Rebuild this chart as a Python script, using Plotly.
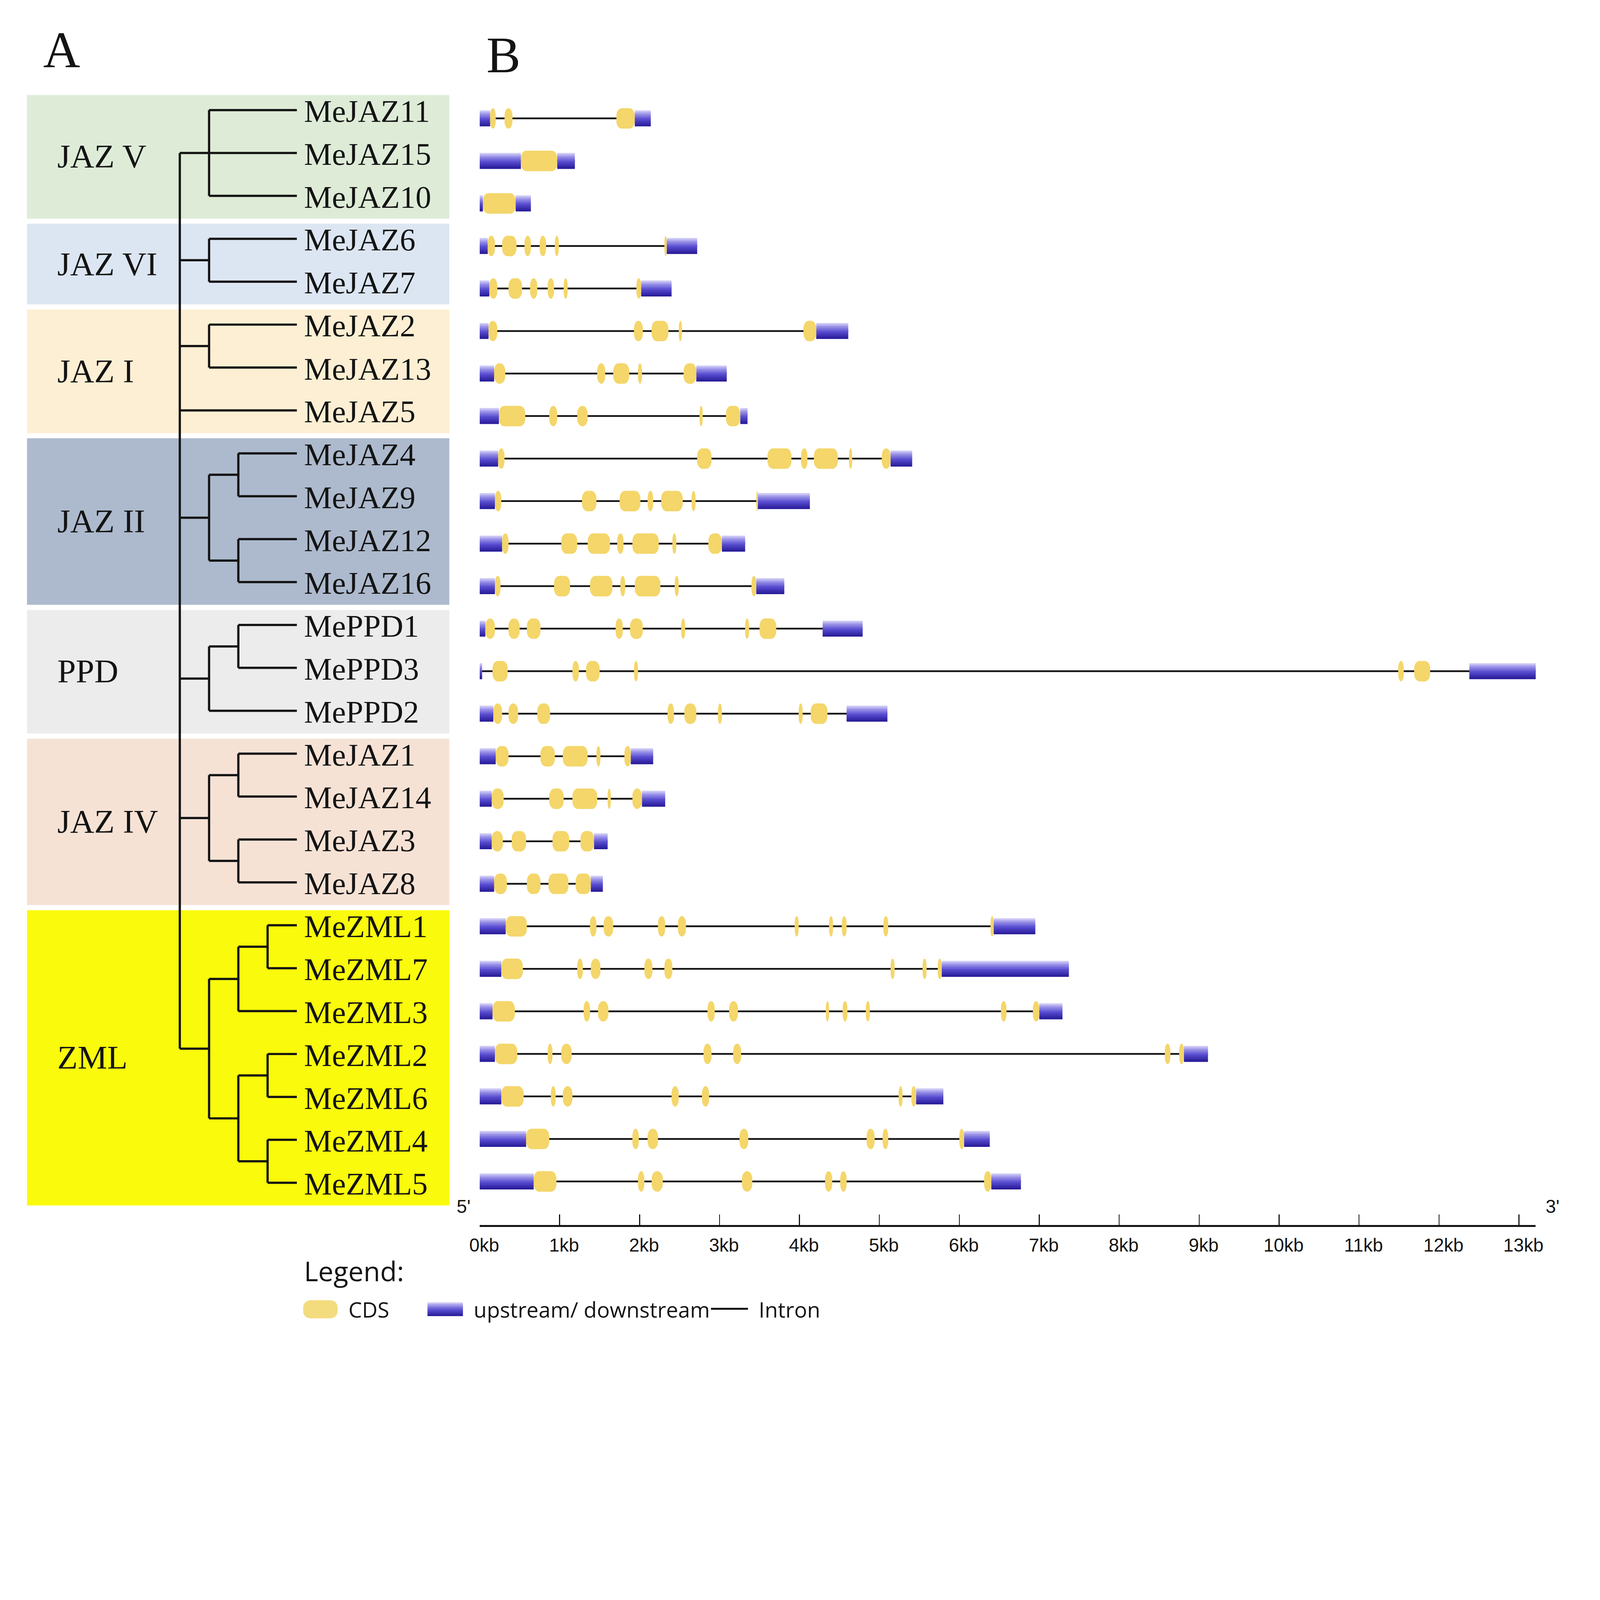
import plotly.graph_objects as go

# ---------------------------------------------------------------- data
gene_names = ["MeJAZ11", "MeJAZ15", "MeJAZ10", "MeJAZ6", "MeJAZ7", "MeJAZ2", "MeJAZ13", "MeJAZ5",
              "MeJAZ4", "MeJAZ9", "MeJAZ12", "MeJAZ16", "MePPD1", "MePPD3", "MePPD2",
              "MeJAZ1", "MeJAZ14", "MeJAZ3", "MeJAZ8",
              "MeZML1", "MeZML7", "MeZML3", "MeZML2", "MeZML6", "MeZML4", "MeZML5"]

# 5' upstream region (kb)
utr5_kb = [(0, 0.13), (0, 0.515), (0, 0.04), (0, 0.10), (0, 0.12), (0, 0.11), (0, 0.18), (0, 0.24),
           (0, 0.23), (0, 0.19), (0, 0.28), (0, 0.19), (0, 0.07), (0, 0.03), (0, 0.17),
           (0, 0.20), (0, 0.15), (0, 0.15), (0, 0.18),
           (0, 0.325), (0, 0.27), (0, 0.16), (0, 0.19), (0, 0.27), (0, 0.58), (0, 0.675)]

# 3' downstream region (kb)
utr3_kb = [(1.94, 2.14), (0.97, 1.19), (0.45, 0.64), (2.34, 2.72), (2.02, 2.40), (4.21, 4.61), (2.71, 3.09), (3.26, 3.35),
           (5.14, 5.41), (3.48, 4.13), (3.03, 3.32), (3.46, 3.81), (4.29, 4.79), (12.38, 13.23), (4.59, 5.10),
           (1.89, 2.17), (2.03, 2.32), (1.43, 1.60), (1.39, 1.54),
           (6.43, 6.95), (5.78, 7.37), (7.00, 7.29), (8.81, 9.11), (5.46, 5.80), (6.06, 6.38), (6.40, 6.77)]

# coding sequences (kb)
cds_kb = [
    [(0.13, 0.20), (0.31, 0.41), (1.71, 1.94)],
    [(0.515, 0.97)],
    [(0.04, 0.45)],
    [(0.10, 0.19), (0.28, 0.46), (0.56, 0.64), (0.75, 0.83), (0.94, 0.99), (2.31, 2.34)],
    [(0.12, 0.22), (0.36, 0.53), (0.63, 0.72), (0.85, 0.93), (1.05, 1.10), (1.96, 2.02)],
    [(0.11, 0.22), (1.93, 2.04), (2.15, 2.36), (2.49, 2.53), (4.05, 4.21)],
    [(0.18, 0.32), (1.47, 1.57), (1.67, 1.87), (1.98, 2.03), (2.55, 2.71)],
    [(0.24, 0.57), (0.87, 0.97), (1.22, 1.35), (2.75, 2.79), (3.08, 3.26)],
    [(0.23, 0.31), (2.72, 2.90), (3.60, 3.90), (4.02, 4.10), (4.18, 4.48), (4.62, 4.66), (5.03, 5.14)],
    [(0.19, 0.27), (1.28, 1.46), (1.75, 2.01), (2.10, 2.17), (2.27, 2.54), (2.65, 2.70), (3.46, 3.48)],
    [(0.28, 0.36), (1.02, 1.22), (1.35, 1.63), (1.72, 1.80), (1.91, 2.24), (2.41, 2.46), (2.86, 3.03)],
    [(0.19, 0.26), (0.93, 1.13), (1.38, 1.66), (1.76, 1.82), (1.94, 2.26), (2.44, 2.49), (3.40, 3.46)],
    [(0.07, 0.19), (0.36, 0.50), (0.59, 0.76), (1.70, 1.79), (1.88, 2.04), (2.52, 2.57), (3.32, 3.37), (3.50, 3.71)],
    [(0.16, 0.35), (1.16, 1.24), (1.33, 1.50), (1.93, 1.98), (11.49, 11.56), (11.69, 11.89)],
    [(0.17, 0.28), (0.36, 0.48), (0.72, 0.88), (2.35, 2.43), (2.56, 2.71), (2.98, 3.03), (3.99, 4.04), (4.14, 4.35)],
    [(0.20, 0.36), (0.76, 0.94), (1.04, 1.35), (1.46, 1.51), (1.81, 1.89)],
    [(0.15, 0.30), (0.87, 1.05), (1.16, 1.47), (1.60, 1.64), (1.91, 2.03)],
    [(0.15, 0.29), (0.40, 0.58), (0.91, 1.12), (1.26, 1.43)],
    [(0.18, 0.34), (0.59, 0.76), (0.86, 1.11), (1.20, 1.39)],
    [(0.325, 0.59), (1.38, 1.46), (1.55, 1.67), (2.23, 2.32), (2.48, 2.58), (3.94, 3.99), (4.37, 4.42), (4.53, 4.59), (5.05, 5.11), (6.39, 6.43)],
    [(0.27, 0.54), (1.22, 1.29), (1.39, 1.51), (2.06, 2.16), (2.31, 2.41), (5.14, 5.19), (5.54, 5.59), (5.73, 5.78)],
    [(0.16, 0.44), (1.30, 1.38), (1.48, 1.61), (2.85, 2.94), (3.12, 3.23), (4.33, 4.37), (4.54, 4.60), (4.83, 4.88), (6.52, 6.59), (6.92, 7.00)],
    [(0.19, 0.47), (0.85, 0.91), (1.02, 1.15), (2.80, 2.90), (3.17, 3.27), (8.57, 8.64), (8.75, 8.81)],
    [(0.27, 0.55), (0.89, 0.95), (1.04, 1.16), (2.40, 2.49), (2.78, 2.87), (5.24, 5.29), (5.40, 5.46)],
    [(0.58, 0.87), (1.91, 1.99), (2.10, 2.23), (3.25, 3.36), (4.84, 4.94), (5.04, 5.11), (6.00, 6.06)],
    [(0.675, 0.96), (1.98, 2.06), (2.15, 2.29), (3.28, 3.41), (4.32, 4.41), (4.51, 4.59), (6.31, 6.40)],
]

tree_newick = ("((MeJAZ11,MeJAZ15,MeJAZ10),(MeJAZ6,MeJAZ7),(MeJAZ2,MeJAZ13),MeJAZ5,"
               "((MeJAZ4,MeJAZ9),(MeJAZ12,MeJAZ16)),((MePPD1,MePPD3),MePPD2),"
               "((MeJAZ1,MeJAZ14),(MeJAZ3,MeJAZ8)),"
               "(((MeZML1,MeZML7),MeZML3),((MeZML2,MeZML6),(MeZML4,MeZML5))));")

group_names = ["JAZ V", "JAZ VI", "JAZ I", "JAZ II", "PPD", "JAZ IV", "ZML"]
group_sizes = [3, 2, 3, 4, 3, 4, 7]
group_colors = ["#DEECD7", "#DCE6F2", "#FDEFD3", "#ADBACD", "#ECECEC", "#F6E2D5", "#FAFA0C"]

scale_ticks_kb = [0, 1, 2, 3, 4, 5, 6, 7, 8, 9, 10, 11, 12, 13]
scale_tick_labels = ["0kb", "1kb", "2kb", "3kb", "4kb", "5kb", "6kb", "7kb",
                     "8kb", "9kb", "10kb", "11kb", "12kb", "13kb"]

legend_labels = ["CDS", "upstream/ downstream", "Intron"]

# ---------------------------------------------------------------- geometry / style
W, H = 5000, 4292
SERIF = "Liberation Serif, Times New Roman, serif"
SANS = "Open Sans, Noto Sans, sans-serif"
NARROW = "Liberation Sans Narrow, Arial Narrow, Liberation Sans, sans-serif"

GX0, GX1, GRANGE = 1483, 4821, 13.21
KB_PX = (GX1 - GX0) / GRANGE
ROW0, ROW_PX, AXIS_Y = 370, 132.88, 3828
TOP_PX = 280
Y_BOT = (AXIS_Y - ROW0) / ROW_PX
Y_TOP = (TOP_PX - ROW0) / ROW_PX

ROOT_PX, DEPTH_PX = 535, 92.5
LEAF0, LEAF_PX = 344, 134.08

UTR_H = 50 / ROW_PX / 2
CDS_H = 64 / ROW_PX / 2
CDS_COLOR = "#F4D66A"
BLUE_STOPS = [(0.0, (220, 216, 248)), (0.22, (156, 148, 232)), (0.55, (88, 76, 208)), (1.0, (36, 24, 148))]


def blue_at(t):
    for (t0, c0), (t1, c1) in zip(BLUE_STOPS[:-1], BLUE_STOPS[1:]):
        if t <= t1:
            f = (t - t0) / (t1 - t0)
            return "rgb(%d,%d,%d)" % tuple(round(a + (b - a) * f) for a, b in zip(c0, c1))
    return "rgb(%d,%d,%d)" % BLUE_STOPS[-1][1]


def gradient_rect(x0, x1, ytop, ybot, xref, yref, n=10):
    out = []
    step = (ybot - ytop) / n
    for k in range(n):
        a = ytop + k * step
        b = ytop + (k + 1) * step + (step * 0.4 if k < n - 1 else 0)
        out.append(dict(type="rect", xref=xref, yref=yref, x0=x0, x1=x1, y0=a, y1=b,
                        line=dict(width=0), fillcolor=blue_at((k + 0.5) / n), layer="above"))
    return out


def rounded_path(x0, x1, yt, yb, rx, ry):
    rx = min(rx, (x1 - x0) / 2)
    dy = ry if yb > yt else -ry
    k = 0.5523
    f = lambda v: "%.6f" % v
    return ("M%s,%s L%s,%s " % (f(x0 + rx), f(yt), f(x1 - rx), f(yt)) +
            "C%s,%s %s,%s %s,%s " % (f(x1 - rx + k * rx), f(yt), f(x1), f(yt + dy - k * dy), f(x1), f(yt + dy)) +
            "L%s,%s " % (f(x1), f(yb - dy)) +
            "C%s,%s %s,%s %s,%s " % (f(x1), f(yb - dy + k * dy), f(x1 - rx + k * rx), f(yb), f(x1 - rx), f(yb)) +
            "L%s,%s " % (f(x0 + rx), f(yb)) +
            "C%s,%s %s,%s %s,%s " % (f(x0 + rx - k * rx), f(yb), f(x0), f(yb - dy + k * dy), f(x0), f(yb - dy)) +
            "L%s,%s " % (f(x0), f(yt + dy)) +
            "C%s,%s %s,%s %s,%s Z" % (f(x0), f(yt + dy - k * dy), f(x0 + rx - k * rx), f(yt), f(x0 + rx), f(yt)))


px = lambda v: v / W
py = lambda v: 1 - v / H

fig = go.Figure()
shapes = []
annotations = []

# ---------------------------------------------------------------- gene structures
ix, iy = [], []
for i, (u5, u3) in enumerate(zip(utr5_kb, utr3_kb)):
    ix += [u5[0], u3[1], None]
    iy += [i, i, None]
fig.add_trace(go.Scatter(x=ix, y=iy, mode="lines", line=dict(color="#141414", width=5.5),
                         hoverinfo="skip", showlegend=False, xaxis="x", yaxis="y"))

for i in range(len(gene_names)):
    for (a, b) in (utr5_kb[i], utr3_kb[i]):
        shapes += gradient_rect(a, b, i - UTR_H, i + UTR_H, "x", "y")
    for (a, b) in cds_kb[i]:
        shapes.append(dict(type="path", xref="x", yref="y",
                           path=rounded_path(a, b, i - CDS_H, i + CDS_H, 17 / KB_PX, 24 / ROW_PX),
                           fillcolor=CDS_COLOR, line=dict(width=0), layer="above"))

# ---------------------------------------------------------------- tree
def parse_newick(s):
    s = s.strip().rstrip(";")
    pos = [0]

    def node():
        if s[pos[0]] == "(":
            pos[0] += 1
            kids = [node()]
            while s[pos[0]] == ",":
                pos[0] += 1
                kids.append(node())
            pos[0] += 1
            return kids
        st = pos[0]
        while pos[0] < len(s) and s[pos[0]] not in ",()":
            pos[0] += 1
        return s[st:pos[0]]
    return node()


tree = parse_newick(tree_newick)


def max_internal_depth(n, d=0):
    if isinstance(n, str):
        return d - 1
    return max([d] + [max_internal_depth(c, d + 1) for c in n])


TIP = max_internal_depth(tree) + 1
leaf_order = []
tx, ty = [], []


def place(n, depth):
    if isinstance(n, str):
        leaf_order.append(n)
        return len(leaf_order) - 1, True
    kids = [place(c, depth + 1) for c in n]
    ys = [k[0] for k in kids]
    tx.extend([depth, depth, None])
    ty.extend([min(ys), max(ys), None])
    for cy, is_leaf in kids:
        tx.extend([depth, TIP if is_leaf else depth + 1, None])
        ty.extend([cy, cy, None])
    return sum(ys) / len(ys), False


place(tree, 0)
fig.add_trace(go.Scatter(x=tx, y=ty, mode="lines", line=dict(color="#141414", width=7),
                         hoverinfo="skip", showlegend=False, xaxis="x2", yaxis="y2"))

start = 0
for name, size, col in zip(group_names, group_sizes, group_colors):
    first, last = start, start + size - 1
    shapes.append(dict(type="rect", xref="paper", yref="y2", x0=px(52), x1=px(1387),
                       y0=first - 0.35, y1=last + 0.53, fillcolor=col, line=dict(width=0), layer="below"))
    annotations.append(dict(xref="paper", yref="y2", x=px(146), y=(first + last) / 2 + 0.08,
                            text=name, showarrow=False, xanchor="left", yanchor="middle",
                            font=dict(family=SERIF, size=104, color="#141414")))
    start += size

for i, name in enumerate(leaf_order):
    annotations.append(dict(xref="paper", yref="y2", x=px(926), y=i + 0.03, text=name, showarrow=False,
                            xanchor="left", yanchor="middle",
                            font=dict(family=SERIF, size=98, color="#141414")))

annotations.append(dict(xref="paper", yref="paper", x=px(162), y=py(156), text="A", showarrow=False,
                        xanchor="center", yanchor="middle", font=dict(family=SERIF, size=160, color="#141414")))
annotations.append(dict(xref="paper", yref="paper", x=px(1558), y=py(172), text="B", showarrow=False,
                        xanchor="center", yanchor="middle", font=dict(family=SERIF, size=160, color="#141414")))

annotations.append(dict(xref="paper", yref="paper", x=px(1432), y=py(3769), text="5'", showarrow=False,
                        xanchor="center", yanchor="middle", font=dict(family=NARROW, size=58, color="#141414")))
annotations.append(dict(xref="paper", yref="paper", x=px(4874), y=py(3769), text="3'", showarrow=False,
                        xanchor="center", yanchor="middle", font=dict(family=NARROW, size=58, color="#141414")))

# ---------------------------------------------------------------- legend
annotations.append(dict(xref="paper", yref="paper", x=px(926), y=py(3971), text="Legend:", showarrow=False,
                        xanchor="left", yanchor="middle", font=dict(family=SANS, size=85, color="#141414")))
shapes.append(dict(type="path", xref="paper", yref="paper",
                   path=rounded_path(px(925), px(1034), py(4063), py(4120), 24 / W, 22 / H),
                   fillcolor="#F3DC7E", line=dict(width=0), layer="above"))
shapes += gradient_rect(px(1318), px(1430), py(4070), py(4113), "paper", "paper", n=8)
shapes.append(dict(type="line", xref="paper", yref="paper", x0=px(2214), x1=px(2331), y0=py(4090), y1=py(4090),
                   line=dict(color="#141414", width=6), layer="above"))
for lbl, xl in zip(legend_labels, [1066, 1462, 2363]):
    annotations.append(dict(xref="paper", yref="paper", x=px(xl), y=py(4092), text=lbl, showarrow=False,
                            xanchor="left", yanchor="middle", font=dict(family=SANS, size=67, color="#141414")))

# ---------------------------------------------------------------- layout
fig.update_layout(
    width=W, height=H, margin=dict(l=0, r=0, t=0, b=0),
    paper_bgcolor="white", plot_bgcolor="rgba(0,0,0,0)", showlegend=False,
    xaxis=dict(domain=[GX0 / W, GX1 / W], range=[0, GRANGE], anchor="y",
               tickmode="array", tickvals=scale_ticks_kb, ticktext=scale_tick_labels,
               ticks="inside", ticklen=33, tickwidth=3, tickcolor="#141414",
               showline=True, linewidth=6, linecolor="#141414",
               showgrid=False, zeroline=False, ticklabelshift=14, ticklabelstandoff=8,
               tickfont=dict(family=NARROW, size=58, color="#141414")),
    yaxis=dict(domain=[1 - AXIS_Y / H, 1 - TOP_PX / H], range=[Y_BOT, Y_TOP], anchor="x",
               visible=False, showgrid=False, zeroline=False),
    xaxis2=dict(domain=[0, 1], range=[-ROOT_PX / DEPTH_PX, (W - ROOT_PX) / DEPTH_PX], anchor="y2",
                visible=False, showgrid=False, zeroline=False),
    yaxis2=dict(domain=[0, 1], range=[(H - LEAF0) / LEAF_PX, -LEAF0 / LEAF_PX], anchor="x2",
                visible=False, showgrid=False, zeroline=False),
    shapes=shapes, annotations=annotations,
)

# the browser viewport may be smaller than the figure: scale the whole figure to fit it
fit_js = """
(function(){
  var gd = document.getElementById('{plot_id}');
  document.documentElement.style.margin = '0';
  document.body.style.margin = '0';
  document.body.style.overflow = 'hidden';
  var s = Math.min(window.innerWidth / %d, window.innerHeight / %d, 1);
  gd.style.transformOrigin = '0 0';
  gd.style.transform = 'scale(' + s + ')';
})();
""" % (W, H)

fig.write_html("out.html", post_script=fit_js, config={"displayModeBar": False})
